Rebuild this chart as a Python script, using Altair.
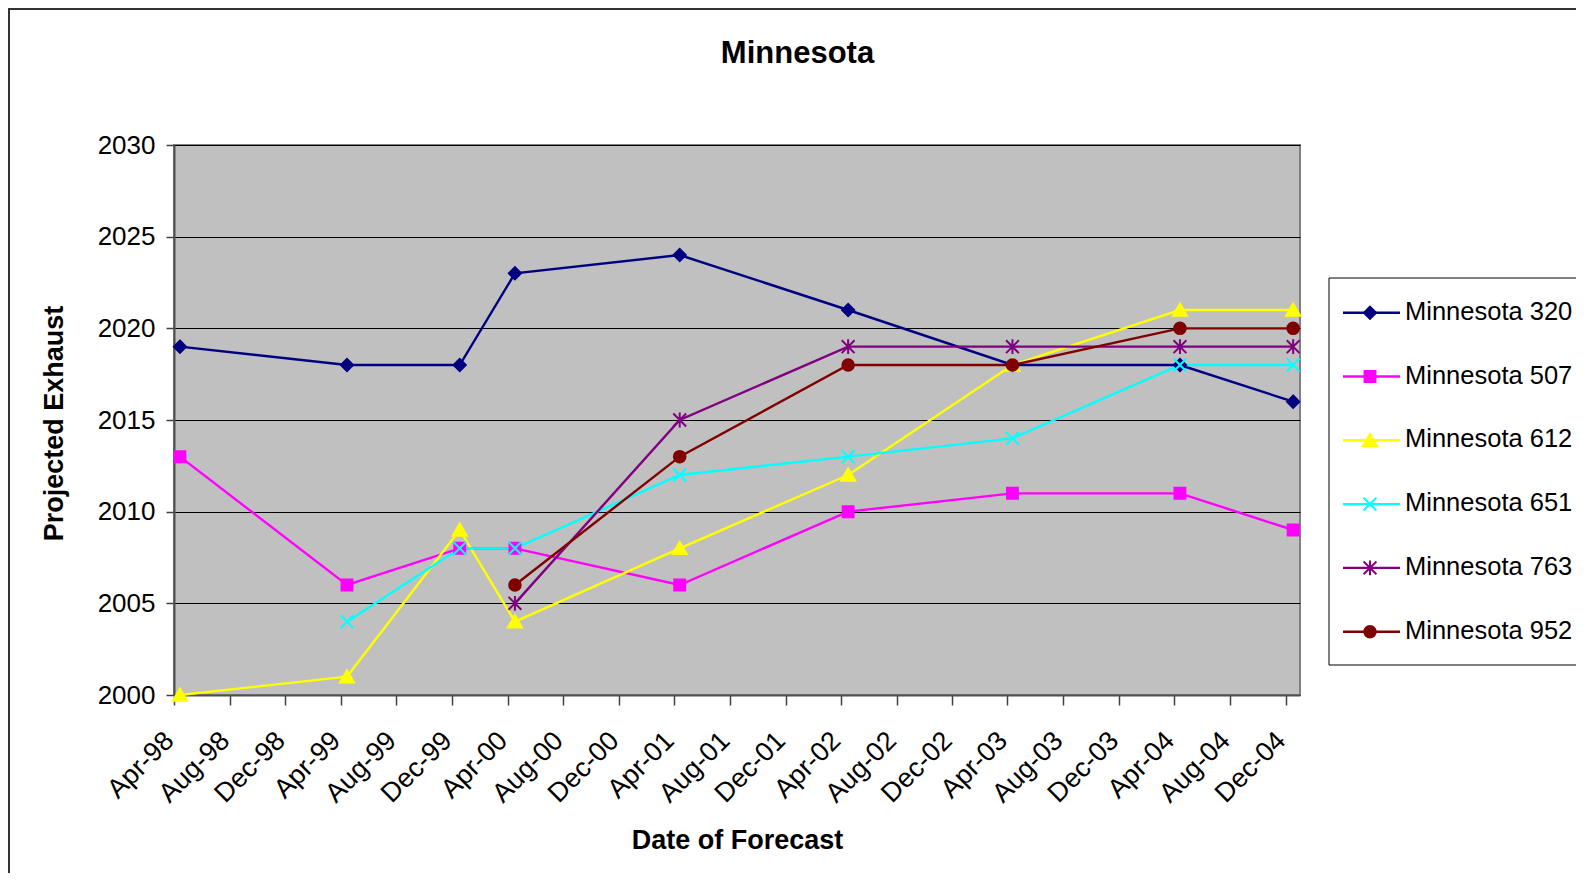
import altair as alt
import pandas as pd

# ---------------- data ----------------
dates = ["1998-04-14", "1999-04-15", "1999-12-18", "2000-04-17", "2001-04-13",
         "2002-04-17", "2003-04-12", "2004-04-13", "2004-12-17"]
series_names = ["Minnesota 320", "Minnesota 507", "Minnesota 612",
                "Minnesota 651", "Minnesota 763", "Minnesota 952"]
mn320 = [2019, 2018, 2018, 2023, 2024, 2021, 2018, 2018, 2016]
mn507 = [2013, 2006, 2008, 2008, 2006, 2010, 2011, 2011, 2009]
mn612 = [2000, 2001, 2009, 2004, 2008, 2012, 2018, 2021, 2021]
mn651 = [None, 2004, 2008, 2008, 2012, 2013, 2014, 2018, 2018]
mn763 = [None, None, None, 2005, 2015, 2019, 2019, 2019, 2019]
mn952 = [None, None, None, 2006, 2013, 2018, 2018, 2020, 2020]
y_ticks = [2000, 2005, 2010, 2015, 2020, 2025, 2030]
tick_months = [(y, m) for y in range(1998, 2005) for m in (4, 8, 12)]
chart_title = "Minnesota"

colors = ["#000080", "#FF00FF", "#FFFF00", "#00FFFF", "#800080", "#800000"]
shapes = [
    "M0,-0.95L0.95,0L0,0.95L-0.95,0Z",
    "M-0.85,-0.85L0.85,-0.85L0.85,0.85L-0.85,0.85Z",
    "M0,-1L1.1,0.9L-1.1,0.9Z",
    "M-1,-1L1,1M-1,1L1,-1",
    "M-1,-1L1,1M-1,1L1,-1M0,-1.15L0,1.15",
    "M0.9,0A0.9,0.9,0,1,1,-0.9,0A0.9,0.9,0,1,1,0.9,0Z",
]

rows = []
for name, vals in zip(series_names, [mn320, mn507, mn612, mn651, mn763, mn952]):
    for d, v in zip(dates, vals):
        if v is not None:
            rows.append({"series": name, "date": d + "T00:00:00", "value": v})
df = pd.DataFrame(rows)
legend_df = pd.DataFrame({"series": series_names})
one = pd.DataFrame({"a": [0]})
title_df = pd.DataFrame({"t": [chart_title]})

FONT = "Liberation Sans"
W, H = 1126, 550
MSIZE = 165

color_enc = alt.Color("series:N", scale=alt.Scale(domain=series_names, range=colors), legend=None)
stroke_enc = alt.Stroke("series:N", scale=alt.Scale(domain=series_names, range=colors), legend=None)
shape_enc = alt.Shape("series:N", scale=alt.Scale(domain=series_names, range=shapes), legend=None)

x_enc = alt.X(
    "date:T",
    scale=alt.Scale(domain=[alt.DateTime(year=1998, month=4, date=1),
                            alt.DateTime(year=2005, month=1, date=1)], nice=False),
    axis=alt.Axis(
        values=[alt.DateTime(year=y, month=m, date=1) for y, m in tick_months],
        format="%b-%y", labelAngle=-45, labelAlign="right", labelBaseline="top",
        labelFont=FONT, labelFontSize=27, labelColor="black", labelPadding=22,
        labelOffset=-14,
        labelOverlap=False, labelFlush=False, labelBound=False,
        tickSize=10, tickColor="#404040", tickWidth=1.5,
        domainColor="#505050", domainWidth=2, grid=False,
        title="Date of Forecast", titleFont=FONT, titleFontSize=27,
        titleFontWeight="bold", titleColor="black",
        titleX=563, titleY=145, titleAlign="center", titleBaseline="middle",
    ),
)
y_scale = alt.Scale(domain=[2000, 2030], nice=False, zero=False)
y_axis = alt.Axis(
    values=y_ticks, format="d", grid=True, gridColor="black", gridWidth=1,
    labelFont=FONT, labelFontSize=26, labelColor="black", labelPadding=11,
    tickSize=8, tickColor="#404040", tickWidth=1.5,
    domainColor="#505050", domainWidth=2,
    title="Projected Exhaust", titleFont=FONT, titleFontSize=27,
    titleFontWeight="bold", titleColor="black", titleAngle=270,
    titleX=-120, titleY=278, titleAlign="center", titleBaseline="middle",
)

lines = alt.Chart(df).mark_line(strokeWidth=2.4).encode(
    x=x_enc,
    y=alt.Y("value:Q", scale=y_scale, axis=y_axis),
    color=color_enc,
)
points = alt.Chart(df).mark_point(filled=True, size=MSIZE, strokeWidth=2, opacity=1).encode(
    x=x_enc,
    y=alt.Y("value:Q", scale=y_scale, axis=None),
    color=color_enc, stroke=stroke_enc, shape=shape_enc,
)

# chart-area border
border = alt.Chart(one).mark_rect(fillOpacity=0, stroke="#333333", strokeWidth=2).encode(
    x=alt.value(-165), x2=alt.value(1500), y=alt.value(-136), y2=alt.value(900)
)

# chart title
title_mark = alt.Chart(title_df).mark_text(
    align="center", baseline="alphabetic", font=FONT, fontSize=31,
    fontWeight="bold", color="black"
).encode(x=alt.value(623.5), y=alt.value(-82.3), text="t:N")

# legend
leg_y = alt.Y("series:N", scale=alt.Scale(type="point", domain=series_names,
                                           range=[167.7, 486.7], padding=0), axis=None)
leg_box = alt.Chart(one).mark_rect(fill="white", stroke="black", strokeWidth=1).encode(
    x=alt.value(1155), x2=alt.value(1500), y=alt.value(133), y2=alt.value(520)
)
leg_rule = alt.Chart(legend_df).mark_rule(strokeWidth=2.4).encode(
    x=alt.value(1169), x2=alt.value(1226), y=leg_y, color=color_enc
)
leg_pt = alt.Chart(legend_df).mark_point(filled=True, size=MSIZE, strokeWidth=2, opacity=1).encode(
    x=alt.value(1196), y=leg_y, color=color_enc, stroke=stroke_enc, shape=shape_enc
)
leg_txt = alt.Chart(legend_df).mark_text(
    align="left", baseline="alphabetic", font=FONT, fontSize=25.5, color="black", dy=7
).encode(x=alt.value(1231), y=leg_y, text="series:N")

chart = alt.layer(
    border, title_mark, lines, points, leg_box, leg_rule, leg_pt, leg_txt
).resolve_scale(y="independent").properties(
    width=W, height=H,
    background="white",
    autosize=alt.AutoSizeParams(type="none"),
    padding={"left": 166, "top": 137, "right": 276, "bottom": 178},
).configure_view(
    fill="#C0C0C0", stroke="#808080", strokeWidth=2
)

chart.save("out.html", embed_options={"renderer": "svg", "actions": False})
